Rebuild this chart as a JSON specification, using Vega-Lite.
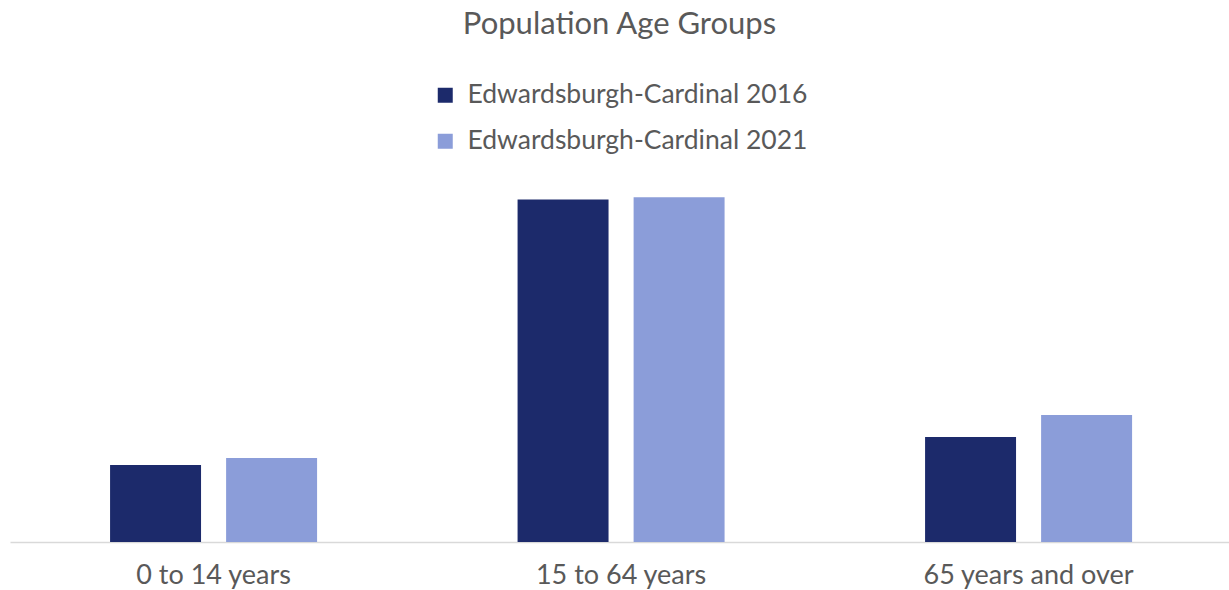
{
  "$schema": "https://vega.github.io/schema/vega-lite/v6.json",
  "width": 1219,
  "height": 370,
  "autosize": {"type": "none"},
  "padding": {"left": 10, "top": 172, "right": 0, "bottom": 48},
  "background": "white",
  "config": {
    "view": {"stroke": null},
    "font": "Lato"
  },
  "title": {
    "text": "Population Age Groups",
    "font": "Lato",
    "fontSize": 31,
    "fontWeight": "normal",
    "color": "#595959",
    "anchor": "middle",
    "frame": "group",
    "offset": 41
  },
  "data": {
    "values": [
      {"age": "0 to 14 years", "series": "Edwardsburgh-Cardinal 2016", "value": 1040},
      {"age": "0 to 14 years", "series": "Edwardsburgh-Cardinal 2021", "value": 1134},
      {"age": "15 to 64 years", "series": "Edwardsburgh-Cardinal 2016", "value": 4630},
      {"age": "15 to 64 years", "series": "Edwardsburgh-Cardinal 2021", "value": 4658},
      {"age": "65 years and over", "series": "Edwardsburgh-Cardinal 2016", "value": 1418},
      {"age": "65 years and over", "series": "Edwardsburgh-Cardinal 2021", "value": 1715}
    ]
  },
  "mark": {"type": "bar"},
  "encoding": {
    "x": {
      "field": "age",
      "type": "nominal",
      "sort": null,
      "scale": {"paddingInner": 0.492, "paddingOuter": 0.2417, "align": 0.508},
      "axis": {
        "title": null,
        "labelAngle": 0,
        "labelFont": "Lato",
        "labelFontSize": 27,
        "labelColor": "#595959",
        "labelPadding": 20,
        "labelLimit": 400,
        "ticks": false,
        "domainColor": "#d9d9d9",
        "domainWidth": 1.5
      }
    },
    "xOffset": {
      "field": "series",
      "type": "nominal",
      "scale": {"paddingInner": 0.216, "paddingOuter": 0}
    },
    "y": {
      "field": "value",
      "type": "quantitative",
      "scale": {"domain": [0, 5000]},
      "axis": null
    },
    "color": {
      "field": "series",
      "type": "nominal",
      "scale": {"range": ["#1c2a6b", "#8b9dd9"]},
      "legend": {
        "title": null,
        "orient": "none",
        "legendX": 422,
        "legendY": -90,
        "direction": "vertical",
        "symbolType": "square",
        "symbolSize": 225,
        "symbolStrokeWidth": 0,
        "labelFont": "Lato",
        "labelFontSize": 26.5,
        "labelColor": "#595959",
        "labelOffset": 9,
        "labelLimit": 600,
        "rowPadding": 19
      }
    }
  }
}
